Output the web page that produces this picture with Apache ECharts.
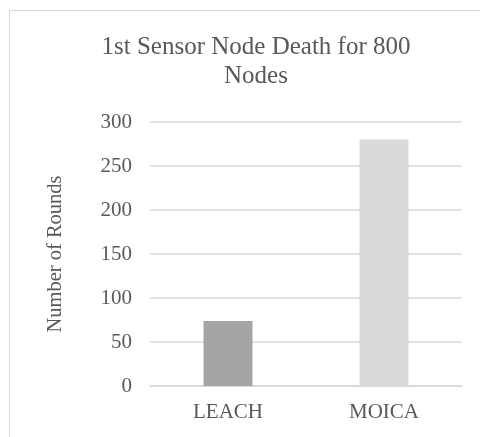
<!DOCTYPE html>
<html>
<head>
<meta charset="utf-8">
<script src="https://cdn.jsdelivr.net/npm/echarts@6/dist/echarts.min.js"></script>
<style>
html,body{margin:0;padding:0;background:#fff;}
#c{width:480px;height:437px;}
</style>
</head>
<body>
<div id="c"></div>
<script>
var categories = ['LEACH', 'MOICA'];
var values = [74, 280];
var barColors = ['#a5a5a5', '#d9d9d9'];
var yTicks = {min: 0, max: 300, interval: 50};
var titleText = '1st Sensor Node Death for 800\nNodes';
var yName = 'Number of Rounds';

var font = '"Liberation Serif", "Times New Roman", serif';
var chart = echarts.init(document.getElementById('c'), null, {renderer: 'canvas'});
chart.setOption({
  animation: false,
  backgroundColor: '#fff',
  graphic: [{
    type: 'rect',
    shape: {x: 9.5, y: 10.5, width: 600, height: 600},
    style: {fill: 'none', stroke: '#d9d9d9', lineWidth: 1}
  }],
  title: {
    text: titleText,
    left: 251,
    top: 28,
    textAlign: 'center',
    textStyle: {fontFamily: font, fontSize: 25, fontWeight: 'normal', color: '#595959', lineHeight: 29}
  },
  grid: {left: 150, right: 18, top: 122, bottom: 51, containLabel: false},
  xAxis: {
    type: 'category',
    data: categories,
    axisLine: {show: true, lineStyle: {color: '#d9d9d9', width: 1.5}},
    axisTick: {show: false},
    axisLabel: {fontFamily: font, fontSize: 21, color: '#595959', margin: 16}
  },
  yAxis: {
    type: 'value',
    min: yTicks.min, max: yTicks.max, interval: yTicks.interval,
    name: yName,
    nameLocation: 'middle',
    nameRotate: 90,
    nameGap: 84,
    nameTextStyle: {fontFamily: font, fontSize: 20.5, color: '#595959'},
    axisLine: {show: false},
    axisTick: {show: false},
    axisLabel: {fontFamily: font, fontSize: 21, color: '#595959', margin: 18},
    splitLine: {lineStyle: {color: '#d9d9d9', width: 1.5}}
  },
  series: [{
    type: 'bar',
    barWidth: 49,
    data: values.map(function (v, i) { return {value: v, itemStyle: {color: barColors[i]}}; })
  }]
});
</script>
</body>
</html>
